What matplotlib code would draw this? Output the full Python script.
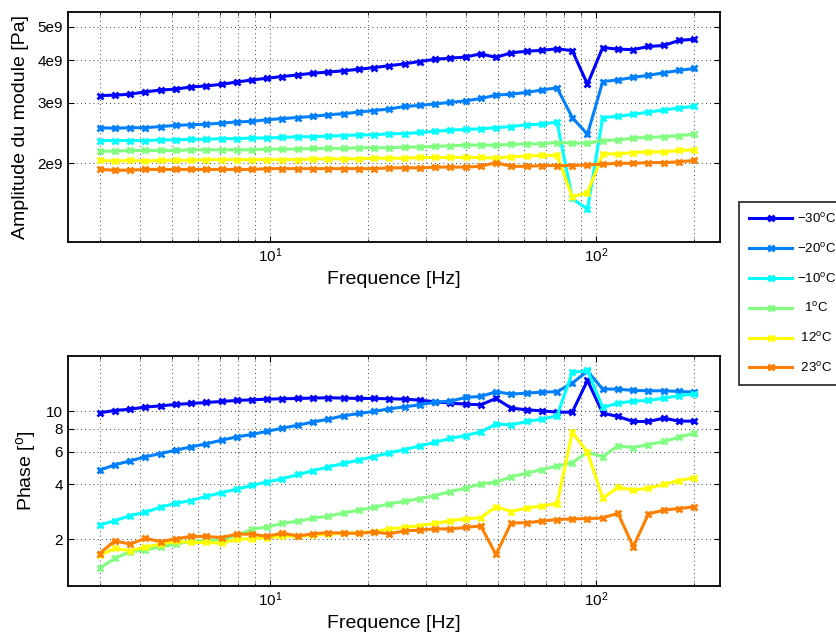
import numpy as np
import matplotlib
matplotlib.use('Agg')
import matplotlib.pyplot as plt
from matplotlib.ticker import FixedLocator, NullLocator, NullFormatter, FixedFormatter

plt.rcParams['font.family'] = ['Liberation Sans', 'DejaVu Sans']
plt.rcParams['mathtext.fontset'] = 'custom'
plt.rcParams['mathtext.rm'] = 'Liberation Sans'
plt.rcParams['mathtext.it'] = 'Liberation Sans:italic'

# frequencies [Hz]
freq = [3.00, 3.34, 3.72, 4.14, 4.62, 5.14, 5.72, 6.37, 7.10, 7.91,
        8.80, 9.81, 10.9, 12.2, 13.5, 15.1, 16.8, 18.7, 20.8, 23.2,
        25.9, 28.8, 32.1, 35.7, 39.8, 44.3, 49.3, 54.9, 61.2, 68.1,
        75.9, 84.5, 94.1, 104.8, 116.7, 130.0, 144.8, 161.3, 179.6, 200.0]

temps = ['\u221230', '\u221220', '\u221210', '  1', ' 12', ' 23']
colors = ['#0000FF', '#0080FF', '#00FFFF', '#80FF80', '#FFFF00', '#FF8000']

# amplitude du module [GPa]
amp_m30 = [3.15, 3.16, 3.18, 3.23, 3.27, 3.29, 3.34, 3.36, 3.40, 3.45,
           3.50, 3.54, 3.58, 3.62, 3.66, 3.69, 3.72, 3.76, 3.80, 3.85,
           3.90, 3.96, 4.02, 4.05, 4.08, 4.17, 4.07, 4.20, 4.24, 4.27,
           4.31, 4.26, 3.40, 4.35, 4.30, 4.29, 4.38, 4.41, 4.56, 4.60]
amp_m20 = [2.54, 2.53, 2.54, 2.54, 2.56, 2.58, 2.59, 2.60, 2.62, 2.64,
           2.65, 2.68, 2.70, 2.72, 2.74, 2.77, 2.79, 2.82, 2.85, 2.88,
           2.93, 2.95, 2.98, 3.01, 3.04, 3.09, 3.16, 3.18, 3.22, 3.27,
           3.32, 2.72, 2.43, 3.46, 3.50, 3.56, 3.61, 3.67, 3.73, 3.78]
amp_m10 = [2.33, 2.33, 2.33, 2.33, 2.34, 2.34, 2.35, 2.35, 2.36, 2.36,
           2.37, 2.37, 2.38, 2.39, 2.39, 2.40, 2.41, 2.42, 2.42, 2.44,
           2.44, 2.46, 2.48, 2.50, 2.51, 2.52, 2.54, 2.56, 2.59, 2.60,
           2.64, 1.58, 1.47, 2.72, 2.74, 2.78, 2.82, 2.86, 2.90, 2.93]
amp_p1 = [2.17, 2.17, 2.18, 2.18, 2.18, 2.18, 2.19, 2.19, 2.19, 2.19,
          2.19, 2.20, 2.20, 2.20, 2.21, 2.21, 2.21, 2.22, 2.22, 2.22,
          2.23, 2.23, 2.24, 2.25, 2.26, 2.26, 2.26, 2.27, 2.28, 2.28,
          2.30, 2.29, 2.29, 2.33, 2.34, 2.37, 2.38, 2.39, 2.41, 2.43]
amp_p12 = [2.04, 2.03, 2.04, 2.03, 2.04, 2.04, 2.04, 2.05, 2.05, 2.05,
           2.05, 2.05, 2.05, 2.05, 2.06, 2.06, 2.06, 2.06, 2.07, 2.07,
           2.07, 2.08, 2.08, 2.08, 2.08, 2.08, 2.07, 2.09, 2.10, 2.11,
           2.11, 1.60, 1.64, 2.13, 2.13, 2.15, 2.16, 2.16, 2.18, 2.19]
amp_p23 = [1.92, 1.91, 1.91, 1.92, 1.92, 1.92, 1.92, 1.92, 1.92, 1.92,
           1.92, 1.93, 1.93, 1.93, 1.93, 1.93, 1.93, 1.93, 1.93, 1.94,
           1.94, 1.94, 1.95, 1.95, 1.95, 1.96, 2.01, 1.96, 1.96, 1.97,
           1.97, 1.97, 1.98, 1.99, 2.00, 2.00, 2.01, 2.01, 2.02, 2.04]

# phase [deg]
ph_m30 = [9.79, 10.08, 10.25, 10.52, 10.69, 10.88, 11.01, 11.15, 11.29, 11.44,
          11.53, 11.63, 11.68, 11.73, 11.78, 11.83, 11.78, 11.73, 11.73, 11.68,
          11.63, 11.48, 11.25, 11.06, 10.92, 10.83, 11.73, 10.39, 10.17, 10.04,
          9.87, 9.87, 14.71, 9.75, 9.35, 8.78, 8.78, 9.16, 8.82, 8.82]
ph_m20 = [4.76, 5.09, 5.35, 5.63, 5.87, 6.12, 6.38, 6.63, 6.94, 7.24,
          7.46, 7.77, 8.07, 8.39, 8.71, 9.04, 9.43, 9.71, 9.96, 10.30,
          10.56, 10.83, 11.20, 11.34, 11.88, 12.03, 12.76, 12.39, 12.54, 12.70,
          12.76, 14.22, 16.54, 13.19, 13.19, 12.97, 12.92, 12.92, 12.81, 12.70]
ph_m10 = [2.39, 2.52, 2.69, 2.80, 2.99, 3.14, 3.25, 3.42, 3.59, 3.75,
          3.93, 4.11, 4.27, 4.51, 4.72, 4.96, 5.18, 5.40, 5.65, 5.92,
          6.17, 6.46, 6.77, 7.09, 7.36, 7.71, 8.49, 8.42, 8.78, 9.04,
          9.43, 16.26, 16.68, 10.47, 11.06, 11.34, 11.44, 11.78, 12.13, 12.43]
ph_p1 = [1.39, 1.57, 1.71, 1.74, 1.82, 1.88, 1.95, 1.96, 2.00, 2.09,
         2.27, 2.33, 2.44, 2.51, 2.60, 2.67, 2.78, 2.88, 2.98, 3.12,
         3.22, 3.33, 3.46, 3.64, 3.80, 4.01, 4.09, 4.38, 4.58, 4.80,
         5.01, 5.24, 5.95, 5.65, 6.46, 6.33, 6.57, 6.83, 7.21, 7.58]
ph_p12 = [1.63, 1.78, 1.73, 1.81, 1.88, 1.95, 1.92, 1.92, 1.90, 2.00,
          2.01, 2.04, 2.07, 2.08, 2.10, 2.13, 2.15, 2.17, 2.20, 2.27,
          2.32, 2.37, 2.44, 2.52, 2.58, 2.62, 3.01, 2.83, 2.96, 3.03,
          3.13, 7.65, 5.97, 3.35, 3.84, 3.70, 3.80, 3.98, 4.18, 4.34]
ph_p23 = [1.67, 1.96, 1.88, 2.02, 1.94, 2.01, 2.07, 2.07, 2.04, 2.13,
          2.13, 2.07, 2.16, 2.08, 2.14, 2.17, 2.16, 2.15, 2.19, 2.14,
          2.22, 2.24, 2.28, 2.27, 2.32, 2.36, 1.65, 2.45, 2.46, 2.51,
          2.56, 2.58, 2.59, 2.61, 2.77, 1.82, 2.75, 2.88, 2.94, 3.00]

amps = [amp_m30, amp_m20, amp_m10, amp_p1, amp_p12, amp_p23]
phases = [ph_m30, ph_m20, ph_m10, ph_p1, ph_p12, ph_p23]

xminor = [3, 4, 5, 6, 7, 8, 9, 20, 30, 40, 50, 60, 70, 80, 90, 200]


def style_axes(ax, yticks, ylabels, ylim):
    ax.set_xscale('log')
    ax.set_yscale('log')
    ax.set_xlim(2.4, 240)
    ax.set_ylim(*ylim)
    ax.xaxis.set_major_locator(FixedLocator([10, 100]))
    ax.set_xticklabels(['$10^1$', '$10^2$'])
    ax.xaxis.set_minor_locator(FixedLocator(xminor))
    ax.xaxis.set_minor_formatter(NullFormatter())
    ax.yaxis.set_major_locator(FixedLocator(yticks))
    ax.yaxis.set_major_formatter(FixedFormatter(ylabels))
    ax.yaxis.set_minor_locator(NullLocator())
    ax.grid(True, which='both', color='black', linestyle=(0, (1, 4)), linewidth=0.6)
    ax.tick_params(which='both', direction='in', top=True, right=True, labelsize=11)
    ax.tick_params(which='major', length=4, width=0.8)
    ax.tick_params(which='minor', length=2.5, width=0.6)
    for sp in ax.spines.values():
        sp.set_linewidth(1.3)
    ax.set_xlabel('Frequence [Hz]', fontsize=14, labelpad=4)


fig = plt.figure(figsize=(8.36, 6.38), dpi=100)
ax1 = fig.add_axes([0.0813, 0.6207, 0.780, 0.3605])
ax2 = fig.add_axes([0.0813, 0.0815, 0.780, 0.3605])

handles = []
for temp, col, amp in zip(temps, colors, amps):
    h, = ax1.plot(freq, np.array(amp) * 1e9, color=col, marker='x', markersize=5,
                  markeredgewidth=2, linewidth=2.2, label=temp + '$^{\\rm o}$C')
    handles.append(h)

for col, ph in zip(colors, phases):
    ax2.plot(freq, ph, color=col, marker='x', markersize=5,
             markeredgewidth=2, linewidth=2.2)

style_axes(ax1, [2e9, 3e9, 4e9, 5e9], ['2e9', '3e9', '4e9', '5e9'], (1.18e9, 5.52e9))
ax1.set_ylabel('Amplitude du module [Pa]', fontsize=14, labelpad=6)

style_axes(ax2, [2, 4, 6, 8, 10], ['2', '4', '6', '8', '10'], (1.11, 20.0))
ax2.set_ylabel('Phase [$^{\\rm o}$]', fontsize=14, labelpad=6)

# legend outside on the right, text kept small enough to stay inside the figure
leg = fig.legend(handles=handles, loc='upper left', bbox_to_anchor=(0.884, 0.6834),
                 borderaxespad=0, fontsize=9.5, frameon=True, fancybox=False,
                 edgecolor='black', handlelength=3.3, handletextpad=0.35,
                 labelspacing=1.2, borderpad=0.75, markerscale=0.9)
leg.get_frame().set_linewidth(1.3)

fig.savefig('out.png', dpi=100)
